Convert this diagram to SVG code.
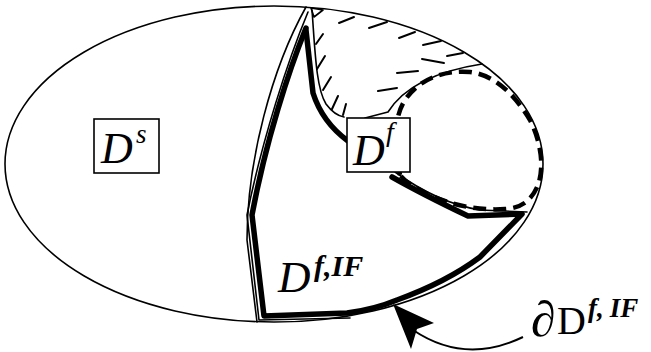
<svg xmlns="http://www.w3.org/2000/svg" width="651" height="352" viewBox="0 0 651 352">
<style>
.thin{fill:none;stroke:#000;stroke-width:1.6;stroke-linecap:round;stroke-linejoin:round}
.thick{fill:none;stroke:#000;stroke-width:5.5;stroke-linecap:round;stroke-linejoin:round}
.dash{fill:none;stroke:#000;stroke-width:4.5;stroke-dasharray:13 7}
.hatch{fill:none;stroke:#000;stroke-width:2;stroke-linecap:round}
.box{fill:#fff;stroke:#000;stroke-width:1.6}
.it{font-family:"Liberation Serif","Times New Roman",serif;font-style:italic;fill:#000}
.up{font-family:"Liberation Serif","Times New Roman",serif;fill:#000}
</style>
<rect width="651" height="352" fill="#fff"/>
<g id="domain">
<ellipse class="thin" cx="274" cy="164" rx="269" ry="158"/>
<path class="thin" d="M306,7 C272,68 247,160 247,240 L257,322"/>
</g>
<g id="region-Df-hatched">
<path class="thin" d="M312,10 C315,50 316,88 326,104 C332,112 338,116 344,117"/>
<path class="thin" d="M365,118 L388,112 C402,90 430,72 482,64"/>
<path class="thin" d="M311,8 L323,10 L314,17 Z"/>
<g class="hatch">
<line x1="339" y1="23" x2="354" y2="17"/>
<line x1="369" y1="28" x2="387" y2="22"/>
<line x1="399" y1="38" x2="415" y2="32"/>
<line x1="423" y1="45" x2="441" y2="41"/>
<line x1="422" y1="59" x2="444" y2="63"/>
<line x1="447" y1="56" x2="463" y2="53"/>
<line x1="397" y1="73" x2="418" y2="71"/>
<line x1="378" y1="91" x2="397" y2="88"/>
<line x1="316" y1="44" x2="323" y2="34"/>
<line x1="317" y1="69" x2="325" y2="56"/>
<line x1="323" y1="90" x2="331" y2="77"/>
<line x1="332" y1="109" x2="338" y2="96"/>
<line x1="343" y1="115" x2="346" y2="104"/>
</g>
<path class="thick" d="M306,30 L313,93 C320,115 333,130 348,141"/>
</g>
<g id="region-DfIF">
<path class="thin" d="M308,12 C288,60 262,140 247,215 L259,320 L350,318"/>
<path class="thin" d="M395,172 C420,190 450,205 480,210 L527,212"/>
<path class="thick" d="M306,28 C289,70 266,140 252,215 L264,316 L347,313 C370,310 385,305 397,300 C430,288 460,272 480,257 L522,214 L468,216 C445,205 415,190 392,177"/>
<path class="dash" d="M400,175 C395,150 392,120 405,100 C420,78 445,70 470,72 C495,75 515,95 530,120 C540,140 545,165 538,185 C532,200 522,208 505,209 C480,211 450,205 430,195 C415,188 405,182 400,175 Z"/>
<text class="it" x="278" y="292" font-size="45">D<tspan x="314" y="276" font-size="30" font-weight="bold">f,IF</tspan></text>
</g>
<g id="region-Ds">
<rect class="box" x="94" y="119" width="65" height="54"/>
<text class="it" x="101" y="163" font-size="44">D<tspan x="136" y="143" font-size="27">s</tspan></text>
</g>
<g id="region-Df">
<rect class="box" x="347" y="118" width="63" height="54"/>
<text class="it" x="353" y="165" font-size="44">D<tspan x="386" y="141" font-size="28">f</tspan></text>
</g>
<g id="connectors">
<path d="M413,330 Q465,365 523,337" fill="none" stroke="#000" stroke-width="2"/>
<polygon points="393,304 434,323 417,329 411,349" fill="#000"/>
</g>
<g id="label-boundary">
<text class="up" x="531" y="336" font-size="50">∂</text>
<text class="up" x="557" y="334" font-size="40">D</text>
<text class="it" x="588" y="317" font-size="27" font-weight="bold">f,<tspan dx="6">IF</tspan></text>
</g>
</svg>
